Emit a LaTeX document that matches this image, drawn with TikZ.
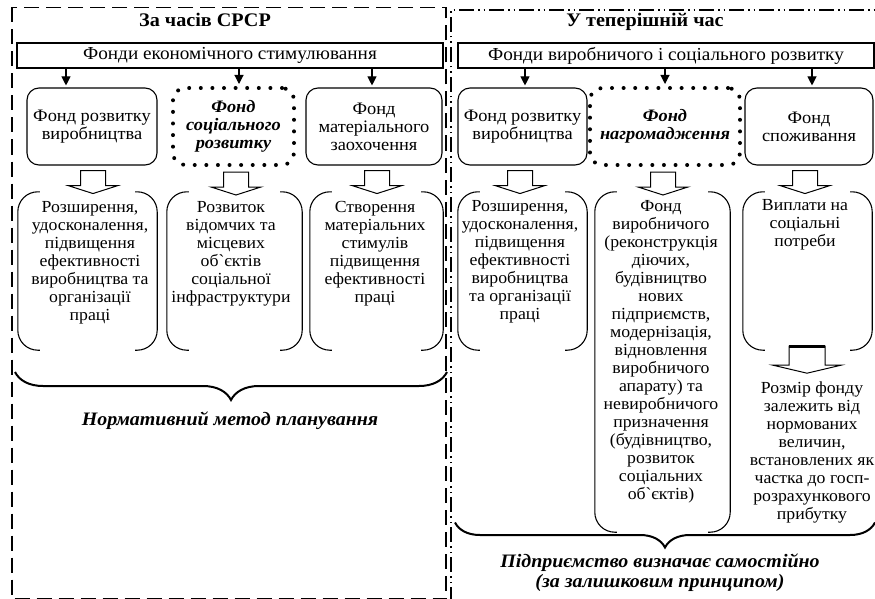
\documentclass[tikz,border=0pt]{standalone}
\usepackage{fontspec}
\setmainfont{Liberation Serif}[Ligatures=TeXOff, FakeStretch=1.05]
\usetikzlibrary{calc,arrows.meta,decorations.pathreplacing}

% hollow block arrow: start point, shaft half width, shaft length, head half width, head length
\newcommand\hollowarrow[5]{%
  \draw[blockarrow] #1 ++(-#2,0) -- ++(0,#3) -- ++(#2-#4,0) -- ++(#4,#5)
    -- ++(#4,-#5) -- ++(#2-#4,0) -- ++(0,-#3) -- cycle;}
% open bracket-like frame round a named node
\newcommand\bracketframe[1]{%
  \draw[bracketline] ($(#1.north west)+(22,0)$) -- (#1.north west) -- (#1.south west) -- ($(#1.south west)+(22,0)$);
  \draw[bracketline] ($(#1.north east)+(-22,0)$) -- (#1.north east) -- (#1.south east) -- ($(#1.south east)+(-22,0)$);}

\begin{document}
\begin{tikzpicture}[x=1pt,y=-1pt,
  txt/.style={align=center, inner sep=0pt, font=\fontsize{16.9}{18}\selectfont},
  head/.style={inner sep=0pt, anchor=base, font=\fontsize{19.2}{20}\selectfont\bfseries},
  note/.style={align=center, inner sep=0pt, font=\fontsize{19}{20}\selectfont\bfseries\itshape},
  topbox/.style={align=center, inner sep=0pt, font=\fontsize{18.3}{18}\selectfont, draw, line width=1.1pt},
  fundbox/.style={align=center, inner sep=0pt, font=\fontsize{17.5}{18}\selectfont, draw, line width=1.1pt,
    rounded corners=12pt, minimum height=77pt},
  keybox/.style={align=center, inner sep=0pt, font=\fontsize{17.5}{18}\selectfont\bfseries\itshape, draw, line width=4pt,
    dash pattern=on 0pt off 11.6pt, line cap=round, rounded corners=12pt, minimum height=77pt},
  slot/.style={inner sep=0pt, draw=none},
  bracketline/.style={line width=1.1pt, rounded corners=20pt},
  blockarrow/.style={draw, line width=1pt, fill=white, line join=miter},
  downarr/.style={line width=1.1pt, -{Triangle[width=9pt,length=9pt]}},
  bigbrace/.style={decorate, decoration={brace, amplitude=#1}, line width=2pt},
  oldframe/.style={line width=1.5pt, dash pattern=on 15pt off 7pt},
  newframe/.style={line width=1.5pt, dash pattern=on 15pt off 4pt on 1.5pt off 4pt on 1.5pt off 4pt},
]
\useasboundingbox (0,0) rectangle (875,599);

% the two period frames
\draw[oldframe] (12,7.5) rectangle (446,599);
\draw[newframe] (451,602) -- (451,10) -- (880,10);

% headings
\node[head] (tL) at (205,27) {За часів СРСР};
\node[head] (tR) at (645,27) {У теперішній час};

% source funds
\node[topbox, minimum width=426pt, minimum height=25pt] (topL) at (230,55.5) {Фонди економічного стимулювання};
\node[topbox, minimum width=416pt, minimum height=25pt] (topR) at (666,55.5) {Фонди виробничого і соціального розвитку};

% first row: funds
\node[fundbox, minimum width=130pt] (l1) at (92,126.5) {Фонд розвитку\\виробництва};
\node[keybox, minimum width=121pt] (l2) at (233.5,126.5) {Фонд\\соціального\\розвитку};
\node[fundbox, minimum width=136pt] (l3) at (374,126.5) {Фонд\\матеріального\\заохочення};
\node[fundbox, minimum width=129pt] (r1) at (522.5,126.5) {Фонд розвитку\\виробництва};
\node[keybox, minimum width=150pt] (r2) at (665,126.5) {Фонд\\нагромадження};
\node[fundbox, minimum width=128pt] (r3) at (809,126.5) {Фонд\\споживання};

% arrows from the source funds
\draw[downarr] ($(l1.north |- topL.south)+(-26,0)$) -- ($(l1.north)+(-26,-2)$);
\draw[downarr] ($(l2.north |- topL.south)+(5.5,0)$) -- ($(l2.north)+(5.5,-2)$);
\draw[downarr] ($(l3.north |- topL.south)+(-2,0)$) -- ($(l3.north)+(-2,-2)$);
\draw[downarr] ($(r1.north |- topR.south)+(2.5,0)$) -- ($(r1.north)+(2.5,-2)$);
\draw[downarr] ($(r2.north |- topR.south)$) -- ($(r2.north)+(0,-2)$);
\draw[downarr] ($(r3.north |- topR.south)+(3,0)$) -- ($(r3.north)+(3,-2)$);

% second row: uses of the funds
\node[slot, minimum width=139pt, minimum height=158pt] (l4) at (87.5,271) {};
\node[slot, minimum width=135pt, minimum height=158pt] (l5) at (234.5,271) {};
\node[slot, minimum width=133pt, minimum height=158pt] (l6) at (376.5,271) {};
\node[slot, minimum width=129pt, minimum height=158pt] (r4) at (522.5,271) {};
\node[slot, minimum width=135pt, minimum height=340pt] (r5) at (662.5,362) {};
\node[slot, minimum width=129pt, minimum height=158pt] (r6) at (807.5,271) {};
\bracketframe{l4}
\bracketframe{l5}
\bracketframe{l6}
\bracketframe{r4}
\bracketframe{r5}
\bracketframe{r6}

\node[txt] (l4t) at (90,262.5) {Розширення,\\удосконалення,\\підвищення\\ефективності\\виробництва та\\організації\\праці};
\node[txt] (l5t) at (231,254) {Розвиток\\відомчих та\\місцевих\\об\textasciigrave єктів\\соціальної\\інфраструктури};
\node[txt] (l6t) at (375,254) {Створення\\матеріальних\\стимулів\\підвищення\\ефективності\\праці};
\node[txt] (r4t) at (520,262) {Розширення,\\удосконалення,\\підвищення\\ефективності\\виробництва\\та організації\\праці};
\node[txt] (r5t) at (661,352) {Фонд\\виробничого\\(реконструкція\\діючих,\\будівництво\\нових\\підприємств,\\модернізація,\\відновлення\\виробничого\\апарату) та\\невиробничого\\призначення\\(будівництво,\\розвиток\\соціальних\\об\textasciigrave єктів)};
\node[txt] (r6t) at (805,225) {Виплати на\\соціальні\\потреби};
\node[txt] (r7t) at (812,452.5) {Розмір фонду\\залежить від\\нормованих\\величин,\\встановлених як\\частка до госп-\\розрахункового\\прибутку};

% block arrows between the rows
\hollowarrow{($(l1.south)+(1,5)$)}{12.5}{15}{25}{8}
\hollowarrow{($(l2.south)+(2.5,5)$)}{12.5}{15}{25}{8}
\hollowarrow{($(l3.south)+(3,5)$)}{12.5}{15}{25}{8}
\hollowarrow{($(r1.south)+(-2.5,5)$)}{12.5}{15}{25}{8}
\hollowarrow{($(r2.south)+(-2,5)$)}{12.5}{15}{25}{8}
\hollowarrow{($(r3.south)+(-4,5)$)}{12.5}{15}{25}{8}
\coordinate (r6a) at ($(r6.south)+(-0.5,-4)$);
\hollowarrow{(r6a)}{18}{19}{34}{8}
\draw[line width=2.6pt] ($(r6a)+(-18,0)$) -- ($(r6a)+(18,0)$);

% summarising braces and notes
\draw[bigbrace=28pt] (447,372) -- (15,372);
\node[note] (nL) at (230,421) {Нормативний метод планування};
\draw[bigbrace=25pt] (875,522.5) -- (455,522.5);
\node[note] (nR) at (660,573) {Підприємство визначає самостійно\\(за залишковим принципом)};
\end{tikzpicture}
\end{document}
